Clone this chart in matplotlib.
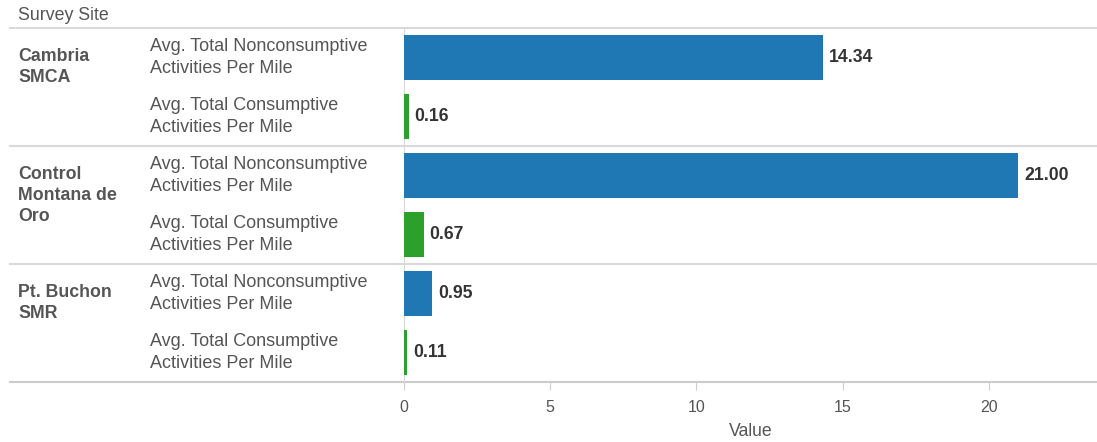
import matplotlib
matplotlib.use("Agg")
import matplotlib.pyplot as plt
from matplotlib.transforms import blended_transform_factory

plt.rcParams['font.family'] = 'sans-serif'
plt.rcParams['font.sans-serif'] = ['Liberation Sans', 'DejaVu Sans']

# data
sites = ['Cambria\nSMCA', 'Control\nMontana de\nOro', 'Pt. Buchon\nSMR']
measures = ['Avg. Total Nonconsumptive\nActivities Per Mile',
            'Avg. Total Consumptive\nActivities Per Mile']
nonconsumptive = [14.34, 21.00, 0.95]
consumptive = [0.16, 0.67, 0.11]
xticks = [0, 5, 10, 15, 20]

blue = '#1f77b4'
green = '#2ca02c'
grey_txt = '#555555'
line_col = '#d9d9d9'

W, H = 1097, 442
fig = plt.figure(figsize=(W / 100, H / 100), dpi=100)
ax = fig.add_axes([404 / W, (H - 382) / H, (W - 404) / W, (382 - 28) / H])

rows = []
values = []
colors = []
for i in range(len(sites)):
    rows += [2 * i, 2 * i + 1]
    values += [nonconsumptive[i], consumptive[i]]
    colors += [blue, green]

ax.barh(rows, values, height=0.75, color=colors, zorder=3)
for r, v in zip(rows, values):
    ax.annotate(f'{v:.2f}', xy=(v, r), xytext=(6, 0), textcoords='offset pixels',
                va='center', ha='left', fontsize=12.7, fontweight='bold', color='#333333')

ax.set_xlim(0, 23.7)
ax.set_ylim(len(rows) - 0.5, -0.5)
ax.set_yticks([])
ax.set_xticks(xticks)
ax.tick_params(axis='x', colors='#cccccc', labelcolor=grey_txt, labelsize=11.5, length=6, pad=7)
ax.set_xlabel('Value', fontsize=12.7, color=grey_txt, labelpad=6)

for s in ['top', 'right']:
    ax.spines[s].set_visible(False)
ax.spines['left'].set_color(line_col)
ax.spines['bottom'].set_visible(False)

# group separator lines reaching into the label area
x0 = (10 - 404) / (W - 404)
for y in [-0.5, 1.5, 3.5]:
    ax.axhline(y, xmin=x0, xmax=1, color=line_col, lw=1.5, clip_on=False, zorder=1)
ax.axhline(len(rows) - 0.5, xmin=x0, xmax=1, color='#cccccc', lw=1.5, clip_on=False, zorder=1)

trans = blended_transform_factory(fig.transFigure, ax.transData)
for i, site in enumerate(sites):
    ax.text(18 / W, 2 * i - 0.5 + 0.345, site, transform=trans, ha='left', va='top',
            fontsize=12.8, fontweight='bold', color=grey_txt, linespacing=1.3)
    for j, m in enumerate(measures):
        ax.text(150 / W, 2 * i + j, m, transform=trans, ha='left', va='center',
                fontsize=13, color=grey_txt, linespacing=1.36)

fig.text(18 / W, 1 - 15 / H, 'Survey Site', ha='left', va='center', fontsize=12.8, color=grey_txt)

fig.savefig('out.png', dpi=100)
